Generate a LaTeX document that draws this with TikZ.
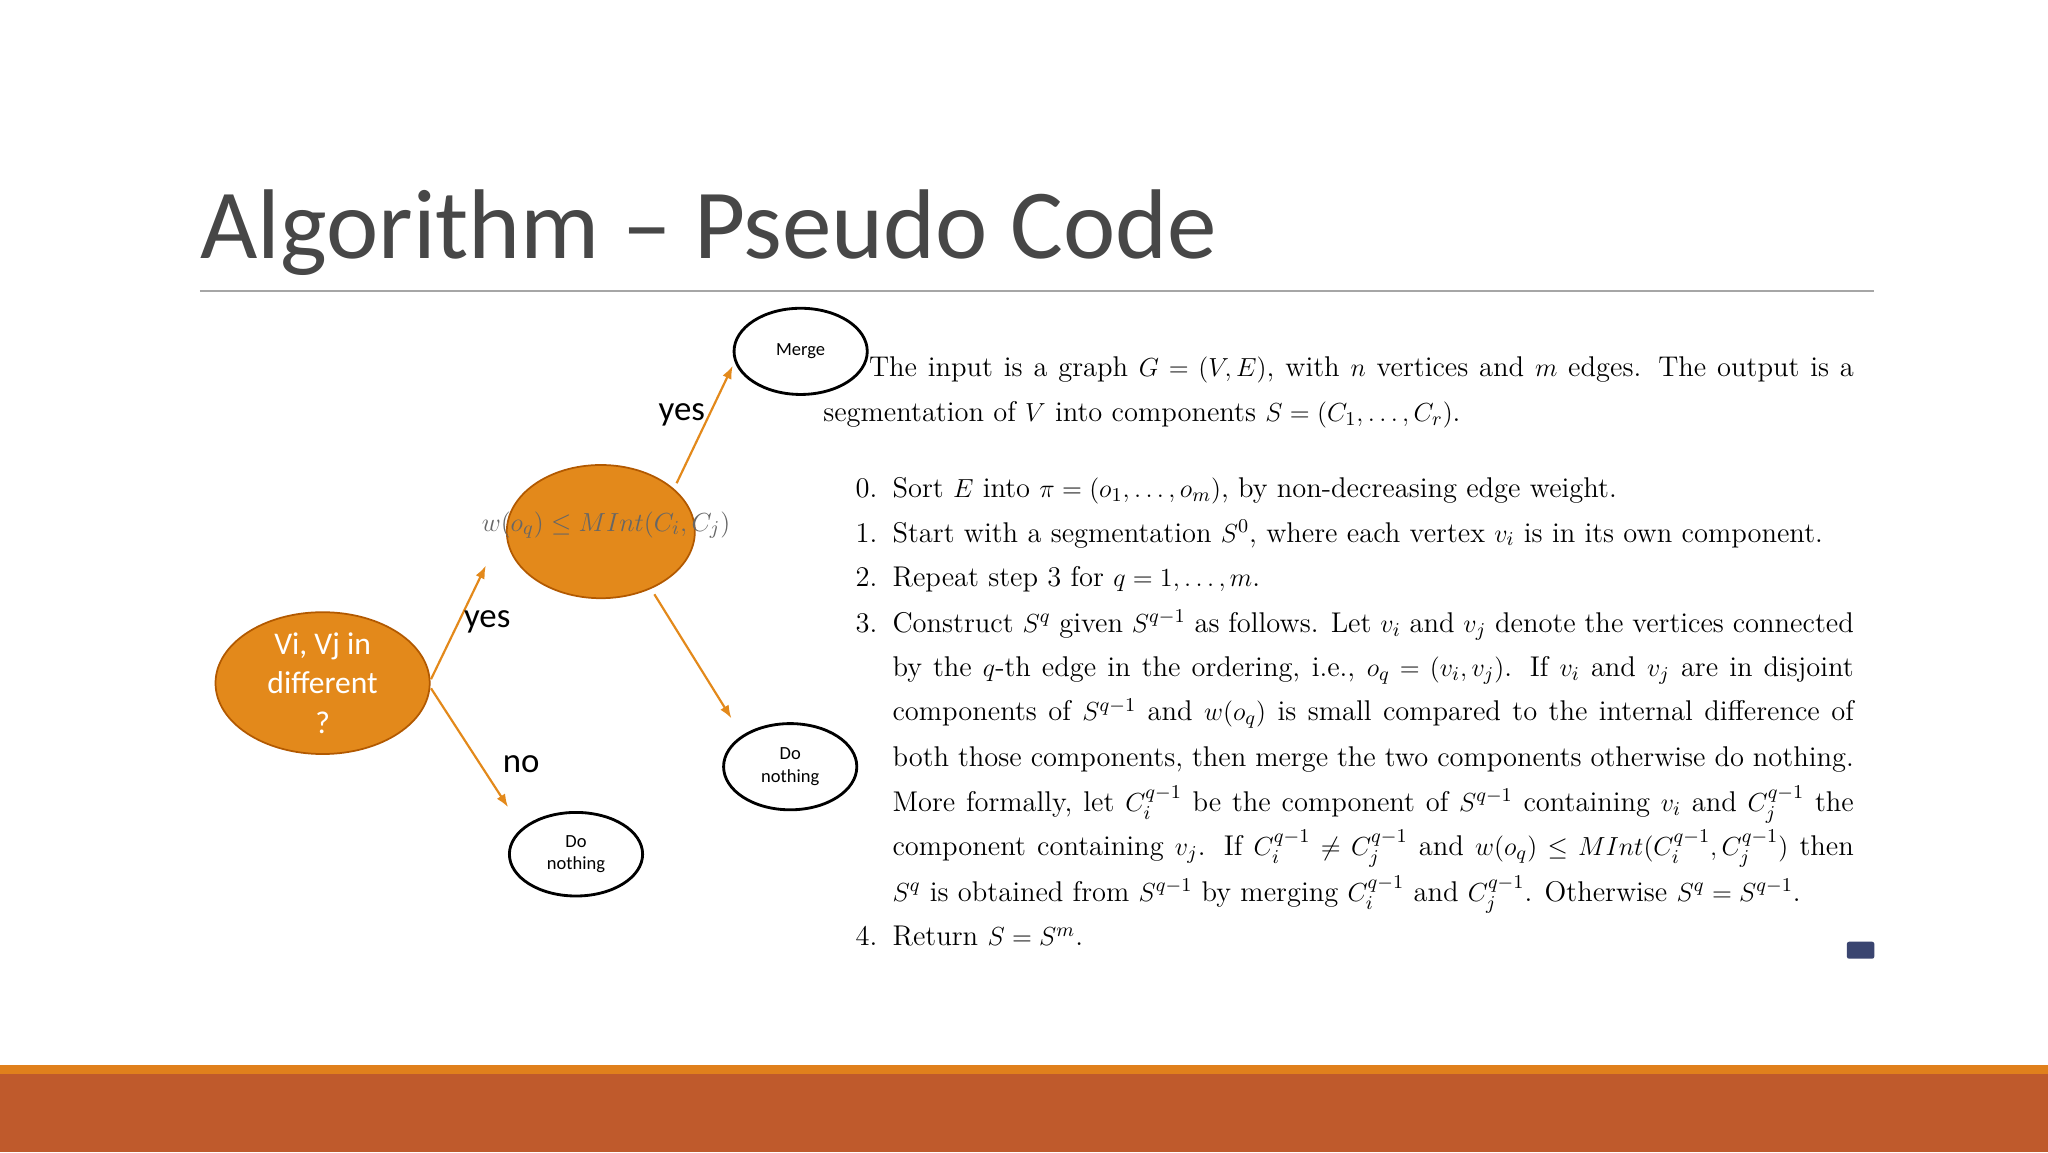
\documentclass[tikz,border=0pt]{standalone}
\usepackage{amsmath}
\usepackage{fontspec}
\usetikzlibrary{shapes.geometric,arrows.meta}
\newfontfamily\calfont{Carlito}
\definecolor{myor}{HTML}{E3891B}
\definecolor{bar1}{HTML}{E0801C}
\definecolor{bar2}{HTML}{BF5A2C}
\begin{document}
\begin{tikzpicture}[x=0.6pt,y=-0.6pt,
  orell/.style={ellipse,draw=orange!70!black,fill=myor,line width=0.8pt,text=white,font=\calfont\fontsize{14.5}{18}\selectfont,align=center,inner sep=0pt},
  whell/.style={ellipse,draw=black,fill=white,line width=1.3pt,font=\calfont\fontsize{8.5}{10.5}\selectfont,align=center,inner sep=0pt},
  arr/.style={draw=myor,line width=1pt,-{Latex[length=6pt,width=4.5pt]}},
  lbl/.style={font=\calfont\fontsize{16}{18}\selectfont,inner sep=0pt},
  ln/.style={anchor=base west,inner sep=0pt,font=\fontsize{13.1}{20.7}\selectfont},
  num/.style={anchor=base east,inner sep=0pt,font=\fontsize{13.1}{20.7}\selectfont}]
\fill[white] (0,0) rectangle (1568,882);
\fill[bar1] (0,815) rectangle (1568,822);
\fill[bar2] (0,822) rectangle (1568,882);
\node[anchor=base west,inner sep=0pt,text=black!72,font=\calfont\fontsize{45.5}{52}\selectfont] (title) at (153,198) {Algorithm – Pseudo Code};
\draw[black!35,line width=0.8pt] (153,223) -- (1435,223);
% diagram
\node[orell,minimum width=98.4pt,minimum height=62.4pt] (a) at (247,523) {Vi, Vj in\\different\\?};
\node[orell,minimum width=86.4pt,minimum height=61.2pt] (b) at (460,407) {};
\node[text=black!60,font=\fontsize{13.1}{16}\selectfont,inner sep=0pt] (f) at (464,402) {$w(o_q)\le MInt(C_i,C_j)$};
\node[whell,minimum width=61.2pt,minimum height=39.6pt] (m) at (613,269) {Merge};
\node[whell,minimum width=61.2pt,minimum height=39.6pt] (d1) at (605,587) {Do\\nothing};
\node[whell,minimum width=61.2pt,minimum height=38.4pt] (d2) at (441,654) {Do\\nothing};
\coordinate (a1) at (330,520); \coordinate (a1e) at (372,433);
\coordinate (a2) at (330,527); \coordinate (a2e) at (389,618);
\coordinate (b1) at (518,370); \coordinate (b1e) at (561,280);
\coordinate (b2) at (501,455); \coordinate (b2e) at (560,550);
\draw[arr] (a1) -- (a1e);
\draw[arr] (a2) -- (a2e);
\draw[arr] (b1) -- (b1e);
\draw[arr] (b2) -- (b2e);
\node[lbl] (y1) at (522,318) {yes};
\node[lbl] (y2) at (373,476) {yes};
\node[lbl] (n1) at (399,585) {no};
% text
\node[ln] (l1) at (665,288) {\hbox to 452.4pt{The input is a graph $G=(V,E)$, with $n$ vertices and $m$ edges. The output is a}};
\node[ln] (l2) at (630,323) {segmentation of $V$ into components $S=(C_1,\dots,C_r)$.};
\node[num] (n0) at (672,381) {0.};
\node[ln] (l3) at (683,381) {Sort $E$ into $\pi=(o_1,\dots,o_m)$, by non-decreasing edge weight.};
\node[num] (n1x) at (672,415) {1.};
\node[ln] (l4) at (683,415) {Start with a segmentation $S^0$, where each vertex $v_i$ is in its own component.};
\node[num] (n2) at (672,449) {2.};
\node[ln] (l5) at (683,449) {Repeat step 3 for $q=1,\dots,m$.};
\node[num] (n3) at (672,484) {3.};
\node[ln] (l6) at (683,484) {\hbox to 441.6pt{Construct $S^q$ given $S^{q-1}$ as follows. Let $v_i$ and $v_j$ denote the vertices connected}};
\node[ln] (l7) at (683,518) {\hbox to 441.6pt{by the $q$-th edge in the ordering, i.e., $o_q=(v_i,v_j)$. If $v_i$ and $v_j$ are in disjoint}};
\node[ln] (l8) at (683,552) {\hbox to 441.6pt{components of $S^{q-1}$ and $w(o_q)$ is small compared to the internal difference of}};
\node[ln] (l9) at (683,587) {\hbox to 441.6pt{both those components, then merge the two components otherwise do nothing.}};
\node[ln] (l10) at (683,621) {\hbox to 441.6pt{More formally, let $C_i^{q-1}$ be the component of $S^{q-1}$ containing $v_i$ and $C_j^{q-1}$ the}};
\node[ln] (l11) at (683,655) {\hbox to 441.6pt{component containing $v_j$. If $C_i^{q-1}\neq C_j^{q-1}$ and $w(o_q)\le MInt(C_i^{q-1},C_j^{q-1})$ then}};
\node[ln] (l12) at (683,690) {$S^q$ is obtained from $S^{q-1}$ by merging $C_i^{q-1}$ and $C_j^{q-1}$. Otherwise $S^q=S^{q-1}$.};
\node[num] (n4) at (672,724) {4.};
\node[ln] (l13) at (683,724) {Return $S=S^m$.};
\fill[rounded corners=1pt,fill={rgb,255:red,58;green,69;blue,112}] (1414,721) rectangle (1435,734);
\end{tikzpicture}
\end{document}
